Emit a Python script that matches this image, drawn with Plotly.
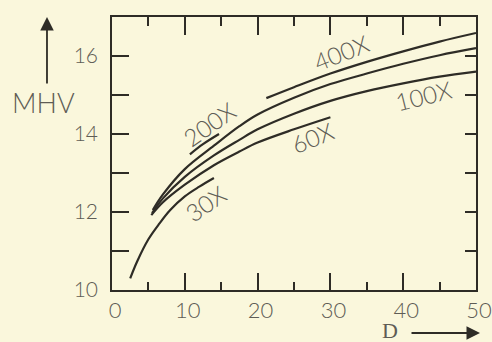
import plotly.graph_objects as go

# ---- data ----
x_30 = [2.5, 3.5, 5, 6.5, 8, 10, 12, 14]
y_30 = [10.3, 10.75, 11.3, 11.7, 12.05, 12.4, 12.65, 12.87]

x_60 = [5.4, 7, 10, 14, 17.5, 20, 25, 30]
y_60 = [11.92, 12.25, 12.7, 13.2, 13.55, 13.78, 14.12, 14.43]

x_100 = [5.5, 7, 10, 14, 17.5, 20, 25, 30, 35, 40, 45, 50]
y_100 = [11.97, 12.35, 12.9, 13.45, 13.85, 14.12, 14.52, 14.85, 15.1, 15.3, 15.47, 15.6]

x_200 = [5.6, 7, 10, 14, 17.5, 20, 25, 30, 35, 40, 45, 50]
y_200 = [12.05, 12.45, 13.1, 13.7, 14.2, 14.5, 14.93, 15.28, 15.55, 15.8, 16.02, 16.2]

x_200s = [10.7, 12.5, 14.7]
y_200s = [13.48, 13.74, 14.0]

x_400 = [21.2, 25, 30, 35, 40, 45, 50]
y_400 = [14.92, 15.2, 15.55, 15.85, 16.12, 16.37, 16.59]

curve_labels = ["200X", "400X", "100X", "60X", "30X"]
label_x = [13.46, 31.46, 42.8, 27.5, 12.8]
label_y = [14.26, 16.08, 15.0, 13.92, 12.23]
label_angle = [-35, -22, -14, -22, -35]

x_ticks = [0, 10, 20, 30, 40, 50]
x_minor = [5, 15, 25, 35, 45]
y_ticks = [10, 12, 14, 16]
y_minor = [11, 13, 15]
y_right = [11, 12, 13, 14, 15, 16]

INK = "#2e2c26"
TXT = "#5e5c55"
BG = "#faf7dc"
FONT = "Lato"

fig = go.Figure()
for xs, ys in [(x_30, y_30), (x_60, y_60), (x_100, y_100), (x_200, y_200),
               (x_200s, y_200s), (x_400, y_400)]:
    fig.add_trace(go.Scatter(x=xs, y=ys, mode="lines", line=dict(color=INK, width=2.2, shape="spline"),
                             hoverinfo="skip", showlegend=False))
# helper trace for the mirrored axes
fig.add_trace(go.Scatter(x=[None], y=[None], xaxis="x2", yaxis="y2", showlegend=False))

for t, xx, yy, a in zip(curve_labels, label_x, label_y, label_angle):
    fig.add_annotation(x=xx, y=yy, text=t, showarrow=False, textangle=a,
                       font=dict(family=FONT, size=24, color=TXT, weight=300),
                       xanchor="center", yanchor="middle")

# MHV arrow and label
fig.add_annotation(x=-0.1786, y=1.0, xref="paper", yref="paper", text="", showarrow=True,
                   ax=0, ay=68, arrowhead=2, arrowsize=1.5, arrowwidth=1.8, arrowcolor=INK)
fig.add_annotation(x=-0.187, y=0.685, xref="paper", yref="paper", text="MHV", showarrow=False,
                   font=dict(family=FONT, size=27, color=TXT, weight=300), xanchor="center", yanchor="middle")
# D arrow and label
fig.add_annotation(x=1.011, y=-0.1575, xref="paper", yref="paper", text="", showarrow=True,
                   ax=-70, ay=0, arrowhead=2, arrowsize=1.5, arrowwidth=1.8, arrowcolor=INK)
fig.add_annotation(x=0.765, y=-0.15, xref="paper", yref="paper", text="D", showarrow=False,
                   font=dict(family="Liberation Serif", size=22, color=TXT), xanchor="center", yanchor="middle")

axis_common = dict(showgrid=False, zeroline=False, showline=True, linecolor=INK, linewidth=1.6,
                   ticks="inside", tickcolor=INK, tickwidth=1.6, automargin=False)
fig.update_layout(
    width=492, height=342,
    margin=dict(l=112, r=16, t=17, b=52, autoexpand=False),
    paper_bgcolor=BG, plot_bgcolor=BG,
    xaxis=dict(range=[0, 50], tickvals=x_ticks, ticklen=17, ticklabelshift=3, ticklabeloverflow="allow",
               minor=dict(tickvals=x_minor, ticklen=8, ticks="inside", tickcolor=INK, tickwidth=1.6),
               tickfont=dict(family=FONT, size=22, color=TXT, weight=300), **axis_common),
    yaxis=dict(range=[10, 17], tickvals=y_ticks, ticklen=17, ticklabelstandoff=8,
               minor=dict(tickvals=y_minor, ticklen=17, ticks="inside", tickcolor=INK, tickwidth=1.6),
               tickfont=dict(family=FONT, size=21, color=TXT, weight=300), **axis_common),
    xaxis2=dict(range=[0, 50], overlaying="x", side="top", anchor="y2", tickvals=x_ticks[1:-1], ticklen=18,
                minor=dict(tickvals=x_minor, ticklen=9, ticks="inside", tickcolor=INK, tickwidth=1.6),
                showticklabels=False, **axis_common),
    yaxis2=dict(range=[10, 17], overlaying="y", side="right", anchor="x2", tickvals=y_right, ticklen=11,
                showticklabels=False, **axis_common),
)

fig.write_html("out.html", config={"displayModeBar": False},
               post_script="document.body.style.margin='0';document.body.style.background='%s';" % BG)
